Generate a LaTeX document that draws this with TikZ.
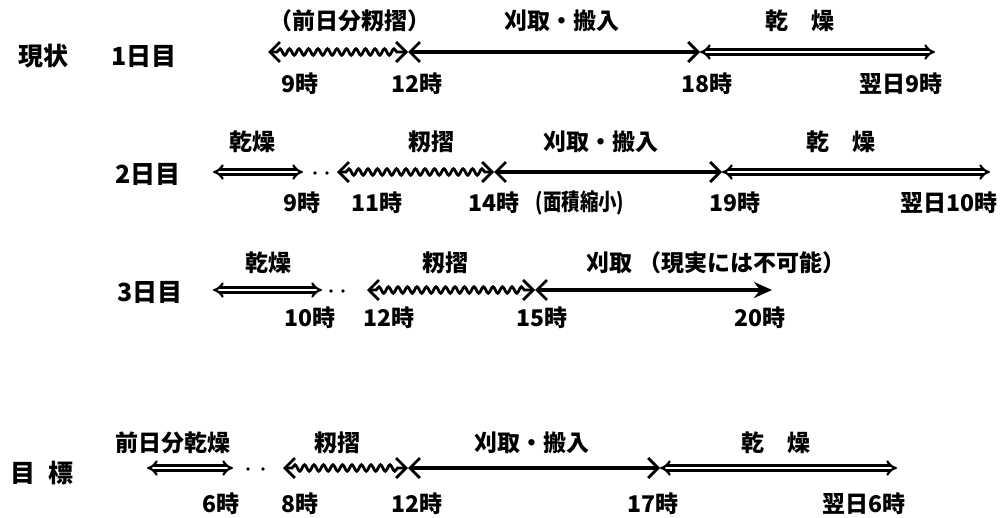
\documentclass[tikz,border=0pt]{standalone}
\usepackage{fontspec}
\newfontfamily\jp{Noto Sans CJK JP}
\usetikzlibrary{arrows.meta,decorations.pathmorphing}
\begin{document}
\begin{tikzpicture}[x=1pt,y=-1pt,
  lbl/.style={font=\jp\bfseries\fontsize{23}{23}\selectfont, inner sep=0pt, anchor=center},
  rowlbl/.style={font=\jp\bfseries\fontsize{25}{25}\selectfont, inner sep=0pt, anchor=center},
  solidseg/.style={line width=3.4pt, {Straight Barb[length=10pt,width=20pt,line width=2.8pt]}-{Straight Barb[length=10pt,width=20pt,line width=2.8pt]}},
  solidend/.style={line width=3.4pt, {Straight Barb[length=10pt,width=20pt,line width=2.8pt]}-{Stealth[length=18pt,width=16pt,inset=6pt]}},
  wavyseg/.style={line width=2.8pt, decorate, decoration={snake, amplitude=3.2pt, segment length=9.5pt, pre length=9pt, post length=9pt}, {Straight Barb[length=10pt,width=20pt,line width=2.8pt]}-{Straight Barb[length=10pt,width=20pt,line width=2.8pt]}},
  dblseg/.style={double, double distance=2.8pt, line width=2.2pt, {Implies}-{Implies}},
  gapdot/.style={fill=black}
]
\useasboundingbox (0,0) rectangle (1007,517);

% ---------- Row 1 ----------
\node[rowlbl] (r1name) at (43,56) {現状};
\node[rowlbl] (r1day) at (144,56) {1日目};
\coordinate (r1a) at (268,52);
\coordinate (r1b) at (408,52);
\coordinate (r1c) at (700,52);
\coordinate (r1d) at (935,52);
\draw[wavyseg] (r1a) -- (r1b);
\draw[solidseg] (r1b) -- (r1c);
\draw[dblseg] (r1c) -- (r1d);
\node[lbl] (r1t1) at (350,21) {（前日分籾摺）};
\node[lbl] (r1t2) at (562,21) {刈取・搬入};
\node[lbl] (r1t3) at (800,21) {乾　燥};
\node[lbl] (r1b1) at (300,84) {9時};
\node[lbl] (r1b2) at (417,84) {12時};
\node[lbl] (r1b3) at (707,84) {18時};
\node[lbl] (r1b4) at (901,84) {翌日9時};

% ---------- Row 2 ----------
\node[rowlbl] (r2day) at (148,174) {2日目};
\coordinate (r2a) at (213,172);
\coordinate (r2b) at (303,172);
\coordinate (r2c) at (337,172);
\coordinate (r2d) at (494,172);
\coordinate (r2e) at (722,172);
\coordinate (r2f) at (990,172);
\draw[dblseg] (r2a) -- (r2b);
\fill[gapdot] (315,173) circle (1.8pt);
\fill[gapdot] (327,173) circle (1.8pt);
\draw[wavyseg] (r2c) -- (r2d);
\draw[solidseg] (r2d) -- (r2e);
\draw[dblseg] (r2e) -- (r2f);
\node[lbl] (r2t1) at (252,142) {乾燥};
\node[lbl] (r2t2) at (431,142) {籾摺};
\node[lbl] (r2t3) at (601,142) {刈取・搬入};
\node[lbl] (r2t4) at (841,142) {乾　燥};
\node[lbl] (r2b1) at (302,203) {9時};
\node[lbl] (r2b2) at (377,203) {11時};
\node[lbl] (r2b3) at (494,203) {14時};
\node[lbl] (r2b4) at (580,203) {\scalebox{0.8}[1]{(面積縮小)}};
\node[lbl] (r2b5) at (735,203) {19時};
\node[lbl] (r2b6) at (949,203) {翌日10時};

% ---------- Row 3 ----------
\node[rowlbl] (r3day) at (150,292) {3日目};
\coordinate (r3a) at (213,290);
\coordinate (r3b) at (322,290);
\coordinate (r3c) at (367,290);
\coordinate (r3d) at (535,290);
\coordinate (r3e) at (772,290);
\draw[dblseg] (r3a) -- (r3b);
\fill[gapdot] (331,291) circle (1.8pt);
\fill[gapdot] (343,291) circle (1.8pt);
\draw[wavyseg] (r3c) -- (r3d);
\draw[solidend] (r3d) -- (r3e);
\node[lbl] (r3t1) at (268,263) {乾燥};
\node[lbl] (r3t2) at (445,263) {籾摺};
\node[lbl] (r3t3) at (716,263) {刈取\hspace{0.3em}（現実には不可能）};
\node[lbl] (r3b1) at (310,318) {10時};
\node[lbl] (r3b2) at (389,318) {12時};
\node[lbl] (r3b3) at (542,318) {15時};
\node[lbl] (r3b4) at (760,318) {20時};

% ---------- Target row ----------
\node[rowlbl] (r4name) at (42,473) {目\hspace{0.5em}標};
\coordinate (r4a) at (147,468);
\coordinate (r4b) at (233,468);
\coordinate (r4c) at (283,468);
\coordinate (r4d) at (408,468);
\coordinate (r4e) at (660,468);
\coordinate (r4f) at (897,468);
\draw[dblseg] (r4a) -- (r4b);
\fill[gapdot] (248,469) circle (1.8pt);
\fill[gapdot] (263,469) circle (1.8pt);
\draw[wavyseg] (r4c) -- (r4d);
\draw[solidseg] (r4d) -- (r4e);
\draw[dblseg] (r4e) -- (r4f);
\node[lbl] (r4t1) at (173,443) {前日分乾燥};
\node[lbl] (r4t2) at (337,443) {籾摺};
\node[lbl] (r4t3) at (532,443) {刈取・搬入};
\node[lbl] (r4t4) at (776,443) {乾　燥};
\node[lbl] (r4b1) at (221,504) {6時};
\node[lbl] (r4b2) at (300,504) {8時};
\node[lbl] (r4b3) at (417,504) {12時};
\node[lbl] (r4b4) at (653,504) {17時};
\node[lbl] (r4b5) at (864,504) {翌日6時};
\end{tikzpicture}
\end{document}
